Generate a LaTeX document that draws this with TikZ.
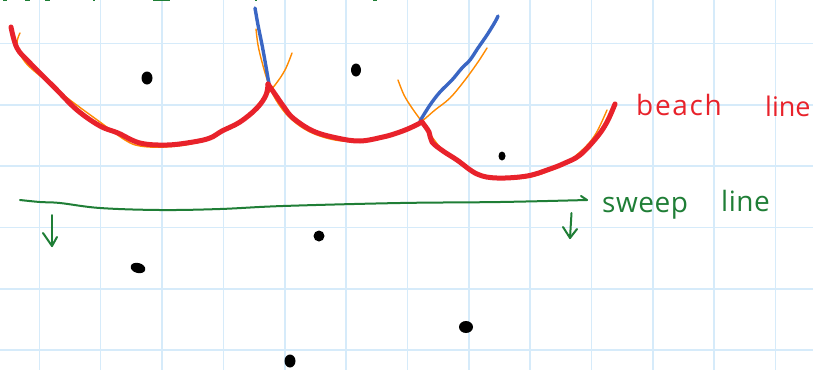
\documentclass[tikz,border=0pt]{standalone}
\usepackage{fontspec}
\setmainfont{Open Sans}
\definecolor{gridblue}{HTML}{D6EBFA}
\definecolor{beachred}{HTML}{E8222B}
\definecolor{parorange}{HTML}{FF8A00}
\definecolor{edgeblue}{HTML}{3A66C4}
\definecolor{sweepgreen}{HTML}{1F7E36}
\tikzset{
  gridline/.style={draw=gridblue, line width=1.6pt},
  beach/.style={draw=beachred, line width=5pt, line cap=round, line join=round},
  parab/.style={draw=parorange, line width=1.4pt, line cap=round, line join=round},
  vedge/.style={draw=edgeblue, line width=3.4pt, line cap=round, line join=round},
  sweep/.style={draw=sweepgreen, line width=2pt, line cap=round, line join=round},
  site/.style={fill=black},
  redlabel/.style={text=beachred, inner sep=0pt, font=\fontsize{28}{28}\selectfont\addfontfeatures{LetterSpace=6}},
  redlabelnarrow/.style={text=beachred, inner sep=0pt, font=\fontsize{27}{27}\selectfont},
  greenlabel/.style={text=sweepgreen, inner sep=0pt, font=\fontsize{28}{28}\selectfont\addfontfeatures{LetterSpace=2}},
}
\begin{document}
\begin{tikzpicture}[x=1pt,y=-1pt]
\useasboundingbox (0,0) rectangle (813,370);
\fill[white] (0,0) rectangle (813,370);
% grid
\foreach \k in {0,...,12} {\draw[gridline] ({39.3+61.35*\k},0) -- ({39.3+61.35*\k},370);}
\foreach \k in {0,...,5} {\draw[gridline] (0,{43.5+61.3*\k}) -- (813,{43.5+61.3*\k});}
% top green fragments
\foreach \a/\b in {3/7,25/30,45/50,93/95,153/170,255/257,373/377}
  {\draw[sweepgreen, line width=2.5pt] (\a,0) -- (\b,0);}
% orange parabolas
\draw[parab] plot[smooth, tension=0.6] coordinates {(20,33) (17,45) (25,62) (45,80) (70,100) (100,122) (125,140) (140,146) (165,147) (195,143) (220,132) (245,117) (262,100) (275,85) (285,70) (292,53)};
\draw[parab] plot[smooth, tension=0.6] coordinates {(256,29) (258,45) (262,62) (268,82) (276,100) (290,118) (310,132) (335,140) (360,141) (390,135) (410,128) (422,121) (435,110) (450,98) (465,80) (478,62) (487,48)};
\draw[parab] plot[smooth, tension=0.6] coordinates {(398,80) (404,95) (412,108) (422,122) (432,137) (445,152) (470,170) (500,178) (530,177) (560,166) (580,152) (595,135) (607,110)};
% blue edges
\draw[vedge] plot[smooth, tension=0.6] coordinates {(255,8) (258,25) (263,50) (269,84)};
\draw[vedge] plot[smooth, tension=0.6] coordinates {(420,121) (430,105) (440,92) (452,80) (462,68) (470,60) (478,48) (487,35) (495,22) (498,16)};
% beach line
\draw[beach] plot[smooth, tension=0.6] coordinates {(11,27) (17,48) (30,63) (55,88) (77,110) (100,126) (118,133) (140,143) (167,145) (193,142) (210,138) (222,131) (240,122) (257,108) (266,95) (268,84)};
\draw[beach] plot[smooth, tension=0.6] coordinates {(268,84) (277,97) (284,107) (293,118) (313,131) (337,138) (360,141) (383,137) (397,133) (410,128) (422,122)};
\draw[beach] plot[smooth, tension=0.6] coordinates {(422,122) (429,132) (432,142) (443,151) (457,160) (477,174) (497,178) (527,176) (550,169) (565,163) (580,155) (597,137) (607,122) (615,104)};
% sites
\fill[site] (147,78) ellipse [x radius=5.5, y radius=6.5];
\fill[site] (356,70) ellipse [x radius=5, y radius=6.5];
\fill[site] (502,156) ellipse [x radius=3.5, y radius=4.5];
\fill[site] (319,236) ellipse [x radius=5.5, y radius=5.5];
\fill[site, rotate around={-15:(138,268)}] (138,268) ellipse [x radius=7.5, y radius=5];
\fill[site] (466,327) ellipse [x radius=7, y radius=6];
\fill[site] (290,361) ellipse [x radius=5.5, y radius=6.5];
% sweep line
\draw[sweep] plot[smooth, tension=0.6] coordinates {(20,200) (40,202) (60,203) (100,208) (160,210) (220,209) (283,206) (400,203) (500,202) (587,200)};
\coordinate (hook) at (581,196);
\draw[sweep] (587,200) -- (hook);
\draw[sweep] (52,215) -- (52,246);
\draw[sweep] (43,233) -- (52,246) -- (57,237);
\draw[sweep] (571.5,213) -- (570,238);
\draw[sweep] (563,227) -- (570,238) -- (577,229);
% labels
\node[redlabel, anchor=base west] (beachw) at (636,115) {beach};
\node[redlabelnarrow, anchor=base west] (linew) at (765,116) {line};
\node[greenlabel, anchor=base west] (sweepw) at (602,212) {sweep};
\node[greenlabel, anchor=base west] (linew2) at (721,211) {line};
\end{tikzpicture}
\end{document}
